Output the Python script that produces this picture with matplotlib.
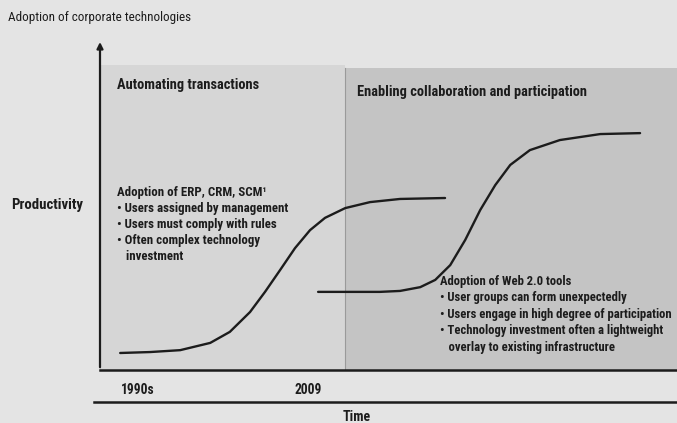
import matplotlib.pyplot as plt
from matplotlib import font_manager

# curve points (time 0-100, productivity 0-100)
erp_t = [3.5, 8.7, 13.9, 19.1, 22.5, 26.0, 28.6, 31.2, 33.8, 36.4, 39.0, 42.5, 46.8, 52.0, 59.8]
erp_p = [5.4, 5.7, 6.3, 8.6, 12.1, 18.4, 24.8, 31.7, 38.7, 44.4, 48.3, 51.4, 53.3, 54.3, 54.6]

web_t = [37.8, 43.3, 48.5, 52.0, 55.5, 58.1, 60.7, 63.3, 65.9, 68.5, 71.1, 74.5, 79.7, 86.7, 93.6]
web_p = [24.8, 24.8, 24.8, 25.1, 26.3, 28.6, 33.3, 41.3, 50.8, 58.7, 65.1, 69.8, 73.0, 74.9, 75.2]

split_t = 42.5
tick_pos = [6.6, 36.0]
tick_labels = ["1990s", "2009"]

left_notes = ["Adoption of ERP, CRM, SCM\u00b9",
              "\u2022 Users assigned by management",
              "\u2022 Users must comply with rules",
              "\u2022 Often complex technology",
              "   investment"]
right_notes = ["Adoption of Web 2.0 tools",
               "\u2022 User groups can form unexpectedly",
               "\u2022 Users engage in high degree of participation",
               "\u2022 Technology investment often a lightweight",
               "   overlay to existing infrastructure"]

# the original uses a condensed face; take one if it is there
installed = {f.name for f in font_manager.fontManager.ttflist}
narrow = [n for n in ["Roboto Condensed", "Open Sans Condensed",
                      "Liberation Sans Narrow", "Arial Narrow"] if n in installed]
if narrow:
    plt.rcParams["font.family"] = [narrow[0], "DejaVu Sans"]
    k = 1.25
else:
    plt.rcParams["font.family"] = ["Liberation Sans", "DejaVu Sans"]
    k = 1.0
ink = "#1c1c1c"

fig = plt.figure(figsize=(6.77, 4.23), dpi=100, facecolor="#e4e4e4")
ax = fig.add_axes([100 / 677, 53 / 423, 577 / 677, 315 / 423])
ax.set_xlim(0, 100)
ax.set_ylim(0, 100)
ax.patch.set_alpha(0)

# shaded eras
ax.axvspan(0, split_t, ymax=0.968, color="#d6d6d6", lw=0)
ax.axvspan(split_t, 100, ymax=0.96, color="#c4c4c4", lw=0)
ax.axvline(split_t, ymax=0.96, color="#9a9a9a", lw=0.8)

ax.plot(erp_t, erp_p, color=ink, lw=1.7, solid_capstyle="round")
ax.plot(web_t, web_p, color=ink, lw=1.7, solid_capstyle="round")

for s in ["top", "right", "left"]:
    ax.spines[s].set_visible(False)
ax.spines["bottom"].set_linewidth(1.8)
ax.spines["bottom"].set_color(ink)
ax.annotate("", xy=(0, 1.05), xytext=(0, 0), xycoords="axes fraction",
            arrowprops=dict(arrowstyle="-|>", color=ink, lw=1.6, mutation_scale=9))

ax.set_yticks([])
ax.set_xticks(tick_pos)
ax.set_xticklabels(tick_labels, fontsize=7.8 * k, fontweight="bold", color=ink)
ax.tick_params(axis="x", length=0, pad=9)

ax.text(2.9, 90.5, "Automating transactions", fontsize=8.3 * k, fontweight="bold",
        color=ink, va="center")
ax.text(44.5, 88.3, "Enabling collaboration and participation", fontsize=8.3 * k,
        fontweight="bold", color=ink, va="center")
ax.text(2.9, 58.3, "\n".join(left_notes), fontsize=7.4 * k, fontweight="bold",
        color=ink, va="top", linespacing=1.6 / k)
ax.text(58.9, 30.2, "\n".join(right_notes), fontsize=7.3 * k, fontweight="bold",
        color=ink, va="top", linespacing=1.68 / k)

ax.plot([-1, 100], [-10, -10], color=ink, lw=1.8, clip_on=False)

fig.text(8 / 677, 1 - 18 / 423, "Adoption of corporate technologies",
         fontsize=7.5 * k, color=ink, va="center")
fig.text(11 / 677, 1 - 205 / 423, "Productivity", fontsize=8.6 * k,
         fontweight="bold", color=ink, va="center")
fig.text(357 / 677, 1 - 417 / 423, "Time", fontsize=8 * k, fontweight="bold",
         color=ink, va="center", ha="center")

fig.savefig("out.png", dpi=100, facecolor=fig.get_facecolor())
